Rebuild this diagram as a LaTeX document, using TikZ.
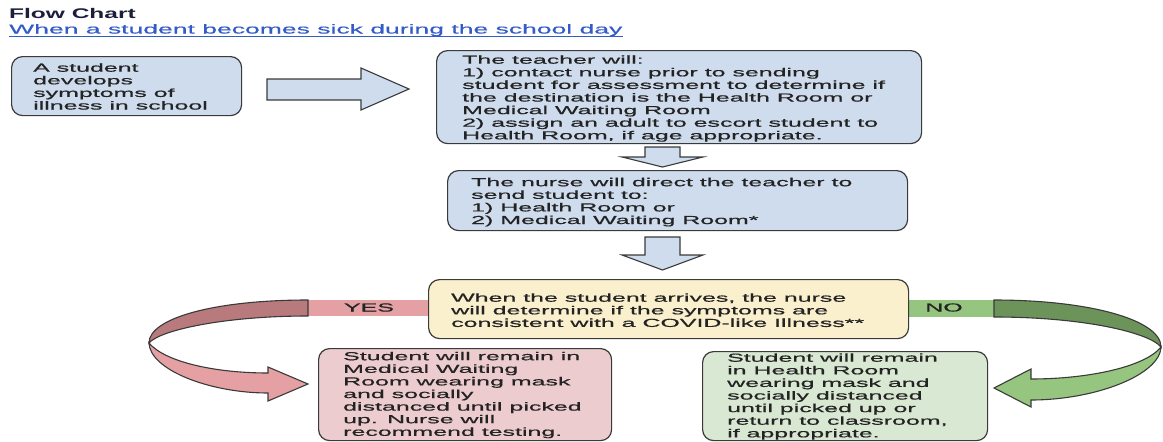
\documentclass[tikz,border=0pt]{standalone}
\usepackage{fontspec}
\setmainfont[FakeStretch=2.15,FakeBold=0.7]{Liberation Sans}
\newfontfamily\titlefont[FakeStretch=1.75]{Liberation Sans}
\newfontfamily\subfont[FakeStretch=2.04,FakeBold=0.5]{Liberation Sans}
\definecolor{blueF}{RGB}{206,220,238}
\definecolor{yellowF}{RGB}{251,240,206}
\definecolor{pinkF}{RGB}{236,204,206}
\definecolor{greenF}{RGB}{217,232,211}
\definecolor{borderC}{RGB}{58,58,58}
\definecolor{yesL}{RGB}{228,160,162}
\definecolor{yesD}{RGB}{184,122,124}
\definecolor{noL}{RGB}{150,197,128}
\definecolor{noD}{RGB}{108,148,90}
\definecolor{textC}{RGB}{35,35,35}
\definecolor{titleC}{RGB}{28,30,58}
\definecolor{linkC}{RGB}{52,92,200}
\newcommand\firstln{\rule{0pt}{9pt}}
\begin{document}
\begin{tikzpicture}[x=1pt,y=-1pt,
  box/.style={draw=borderC, line width=1.2pt, rounded corners=11pt, anchor=north west, inner sep=0pt},
  txt/.style={anchor=north west, inner sep=0pt, align=left, text=textC, font=\fontsize{11.6}{12.6}\selectfont},
  blockarrow/.style={draw=borderC, line width=1.1pt, fill=blueF, line join=miter},
  curvarrow/.style={draw=borderC, line width=1.1pt, line join=miter},
  lbl/.style={anchor=base, inner sep=0pt, text=textC, font=\fontsize{11.6}{12.6}\selectfont}]
\useasboundingbox (0,0) rectangle (1163,442);

% title
\node[anchor=base west, inner sep=0pt, text=titleC, font=\titlefont\fontsize{14}{14}\bfseries\selectfont] (title) at (9,18) {Flow Chart};
\node[anchor=base west, inner sep=0pt, text=linkC, font=\subfont\fontsize{13}{13}\selectfont] (sub) at (9,33.5) {When a student becomes sick during the school day};
\draw[linkC, line width=0.9pt] (sub.south west) -- (sub.south east);

% YES and NO bars with curved arrows
\fill[yesL] (308,300) rectangle (430,316);
\draw[curvarrow, fill=yesD] (308,300) .. controls (215,300) and (149,318) .. (149,343)
  .. controls (160,330) and (225,316) .. (308,316) -- cycle;
\draw[curvarrow, fill=yesL] (149,343) .. controls (150,370) and (210,393) .. (268,393)
  -- (268,401) -- (308,384) -- (268,367) -- (268,373)
  .. controls (215,373) and (165,362) .. (149,343) -- cycle;
\node[lbl] (yes) at (369,311.5) {YES};

\fill[noL] (906,300) rectangle (994,317);
\draw[curvarrow, fill=noD] (994,300) .. controls (1090,300) and (1161,320) .. (1161,347)
  .. controls (1150,333) and (1085,317) .. (994,317) -- cycle;
\draw[curvarrow, fill=noL] (1161,347) .. controls (1160,375) and (1095,400) .. (1031,400)
  -- (1031,407) -- (994,388) -- (1031,369) -- (1031,379)
  .. controls (1088,379) and (1145,367) .. (1161,347) -- cycle;
\node[lbl] (no) at (944,311.5) {NO};

% boxes
\node[box, fill=blueF, minimum width=230pt, minimum height=59pt] (A) at (11,56) {};
\node[box, fill=blueF, minimum width=485pt, minimum height=93pt] (B) at (436,50) {};
\node[box, fill=blueF, minimum width=460pt, minimum height=60pt] (C) at (447,170) {};
\node[box, fill=yellowF, minimum width=480pt, minimum height=59pt] (D) at (428,279) {};
\node[box, fill=pinkF, minimum width=293pt, minimum height=92pt] (E) at (318,348) {};
\node[box, fill=greenF, minimum width=285pt, minimum height=89pt] (F) at (702,351) {};

% block arrows
\draw[blockarrow] (267,79) -- (361,79) -- (361,68) -- (409,89) -- (361,110) -- (361,100) -- (267,100) -- cycle;
\draw[blockarrow] (645,147) -- (680,147) -- (680,157) -- (703,157) -- (662.5,167) -- (622,157) -- (645,157) -- cycle;
\draw[blockarrow] (645,237) -- (680,237) -- (680,255) -- (703,255) -- (662.5,270) -- (622,255) -- (645,255) -- cycle;

% texts
\node[txt] (tA) at (33,62.5) {\firstln A student\\develops\\symptoms of\\illness in school};
\node[txt] (tB) at (462,54.5) {\firstln The teacher will:\\1) contact nurse prior to sending\\student for assessment to determine if\\the destination is the Health Room or\\Medical Waiting Room\\2) assign an adult to escort student to\\Health Room, if age appropriate.};
\node[txt] (tC) at (471,177) {\firstln The nurse will direct the teacher to\\send student to:\\1) Health Room or\\2) Medical Waiting Room*};
\node[txt] (tD) at (451,292.5) {\firstln When the student arrives, the nurse\\will determine if the symptoms are\\consistent with a COVID-like Illness**};
\node[txt] (tE) at (343,351) {\firstln Student will remain in\\Medical Waiting\\Room wearing mask\\and socially\\distanced until picked\\up. Nurse will\\recommend testing.};
\node[txt] (tF) at (727,352.5) {\firstln Student will remain\\in Health Room\\wearing mask and\\socially distanced\\until picked up or\\return to classroom,\\if appropriate.};
\end{tikzpicture}
\end{document}
